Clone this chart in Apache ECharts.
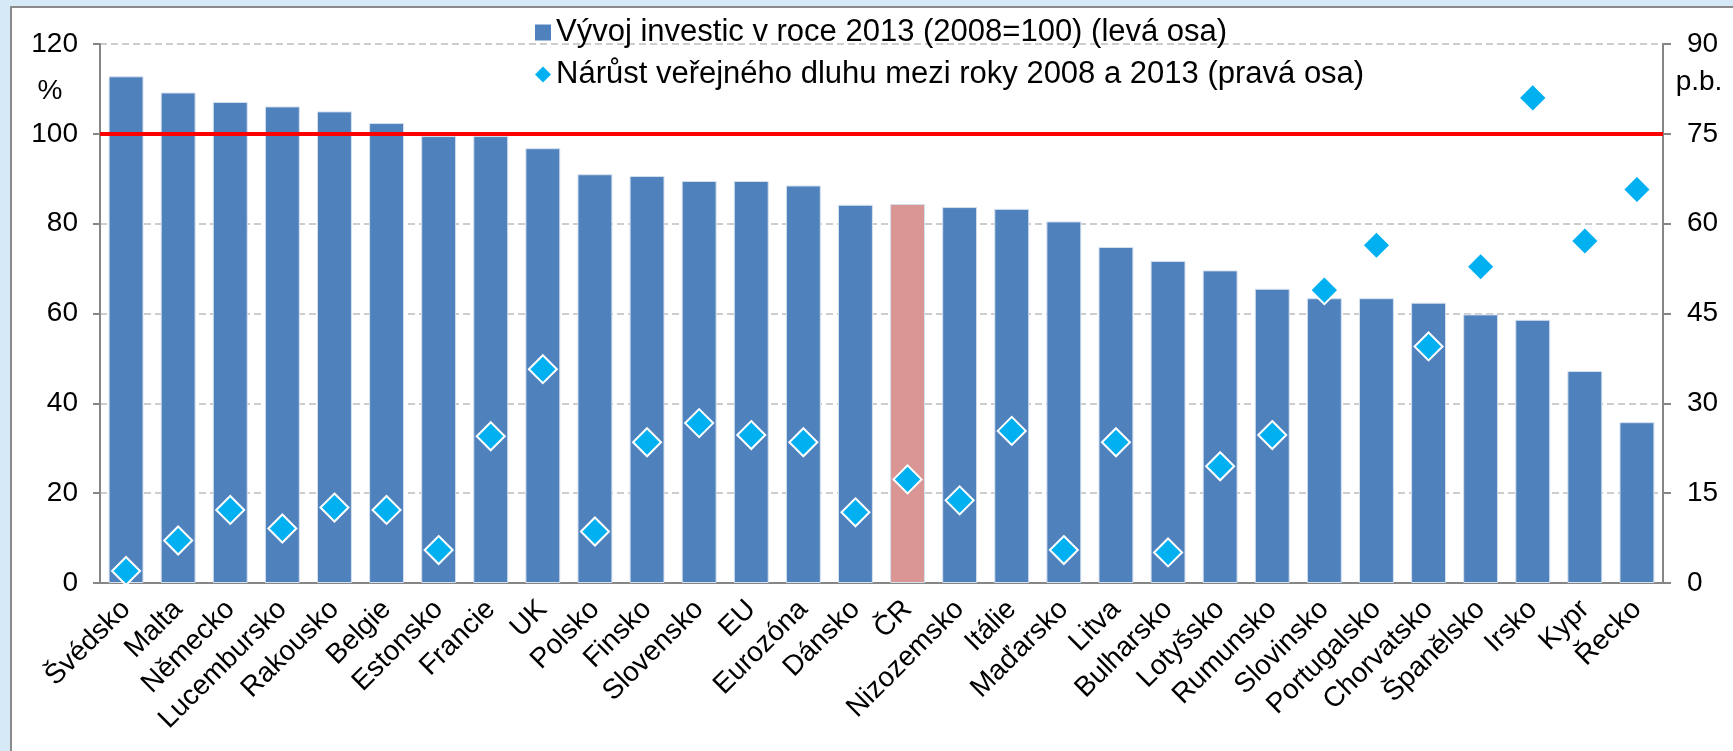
<!DOCTYPE html>
<html>
<head>
<meta charset="utf-8">
<script src="https://cdn.jsdelivr.net/npm/echarts@6/dist/echarts.min.js"></script>
<style>
    html, body { margin: 0; padding: 0; background: #d5e9f6; }
    #chart { width: 1733px; height: 751px; }
</style>
</head>
<body>
<div id="chart"></div>
<script>
// zeme / agregaty
var zeme = ['Švédsko', 'Malta', 'Německo', 'Lucembursko', 'Rakousko', 'Belgie', 'Estonsko', 'Francie',
    'UK', 'Polsko', 'Finsko', 'Slovensko', 'EU', 'Eurozóna', 'Dánsko', 'ČR', 'Nizozemsko', 'Itálie',
    'Maďarsko', 'Litva', 'Bulharsko', 'Lotyšsko', 'Rumunsko', 'Slovinsko', 'Portugalsko', 'Chorvatsko',
    'Španělsko', 'Irsko', 'Kypr', 'Řecko'];

// vyvoj investic v roce 2013 (2008=100), leva osa
var investice = [112.8, 109.2, 107.1, 106.1, 105.0, 102.4, 99.5, 99.5,
    96.8, 91.0, 90.6, 89.5, 89.5, 88.5, 84.2, 84.4, 83.7, 83.3,
    80.5, 74.8, 71.7, 69.6, 65.5, 63.4, 63.4, 62.4,
    59.8, 58.6, 47.2, 35.8];

// narust verejneho dluhu 2008-2013 v p.b., prava osa
var dluh = [2.0, 7.1, 12.2, 9.1, 12.6, 12.2, 5.5, 24.5,
    35.7, 8.6, 23.5, 26.7, 24.7, 23.5, 11.8, 17.3, 13.8, 25.4,
    5.5, 23.5, 5.1, 19.5, 24.7, 48.9, 56.4, 39.5,
    52.8, 81.0, 57.1, 65.7];

var levaOsa = { min: 0, max: 120, interval: 20 };
var pravaOsa = { min: 0, max: 90, interval: 15 };
var hranice = 100;   // 2008 = 100
var zvyraznit = 'ČR';

var nazevInvestice = 'Vývoj investic v roce 2013 (2008=100) (levá osa)';
var nazevDluh = 'Nárůst veřejného dluhu mezi roky 2008 a 2013 (pravá osa)';

var font = '"Liberation Sans", Arial, sans-serif';
var seda = '#868686';

var chart = echarts.init(document.getElementById('chart'));

var sloupce = investice.map(function (v, i) {
    if (zeme[i] === zvyraznit) {
        return { value: v, itemStyle: { color: '#d99694' } };
    }
    return v;
});

var option = {
    backgroundColor: '#d5e9f6',
    textStyle: { fontFamily: font, color: '#000' },
    animation: false,
    graphic: [
        {
            type: 'rect',
            z: -10,
            shape: { x: 11, y: 7, width: 1780, height: 800 },
            style: { fill: '#fff', stroke: '#8a8a8a', lineWidth: 2 }
        },
        {
            type: 'text', z: 10, x: 50, y: 91,
            style: { text: '%', font: '28px ' + font, fill: '#000', align: 'center', verticalAlign: 'middle' }
        },
        {
            type: 'text', z: 10, x: 1699, y: 82,
            style: { text: 'p.b.', font: '28px ' + font, fill: '#000', align: 'center', verticalAlign: 'middle' }
        }
    ],
    legend: {
        orient: 'vertical',
        left: 530,
        top: 12,
        itemGap: 11,
        itemWidth: 16,
        itemHeight: 16,
        textStyle: { fontSize: 31, color: '#000', fontFamily: font },
        itemStyle: { borderWidth: 0 },
        data: [
            { name: nazevInvestice, icon: 'rect' },
            { name: nazevDluh, icon: 'diamond' }
        ]
    },
    grid: { left: 100, right: 70, top: 44, bottom: 168 },
    xAxis: {
        type: 'category',
        data: zeme,
        axisLine: { lineStyle: { color: seda, width: 2 } },
        axisTick: { length: 9, lineStyle: { color: seda, width: 2 } },
        axisLabel: { interval: 0, rotate: 45, fontSize: 28, color: '#000', margin: 22 }
    },
    yAxis: [
        {
            type: 'value',
            min: levaOsa.min, max: levaOsa.max, interval: levaOsa.interval,
            axisLine: { show: true, lineStyle: { color: seda, width: 2 } },
            axisTick: { show: true, length: 7, lineStyle: { color: seda, width: 2 } },
            axisLabel: { fontSize: 28, color: '#000', margin: 22 },
            splitLine: { lineStyle: { color: '#bdbdbd', type: [7, 4], width: 1.5 } }
        },
        {
            type: 'value',
            min: pravaOsa.min, max: pravaOsa.max, interval: pravaOsa.interval,
            axisLine: { show: true, lineStyle: { color: seda, width: 2 } },
            axisTick: { show: true, length: 8, lineStyle: { color: seda, width: 2 } },
            axisLabel: { fontSize: 28, color: '#000', margin: 24 },
            splitLine: { show: false }
        }
    ],
    series: [
        {
            name: nazevInvestice,
            type: 'bar',
            data: sloupce,
            barCategoryGap: '33%',
            itemStyle: { color: '#4f81bd', borderColor: '#d5e0ee', borderWidth: 1 },
            markLine: {
                silent: true,
                symbol: 'none',
                label: { show: false },
                lineStyle: { color: '#ff0000', width: 4, type: 'solid' },
                data: [{ yAxis: hranice }]
            }
        },
        {
            name: nazevDluh,
            type: 'scatter',
            yAxisIndex: 1,
            data: dluh,
            symbol: 'diamond',
            symbolSize: 28,
            z: 5,
            itemStyle: { color: '#00b0f0', borderColor: '#fff', borderWidth: 2, opacity: 1 }
        }
    ]
};

chart.setOption(option);
</script>
</body>
</html>
